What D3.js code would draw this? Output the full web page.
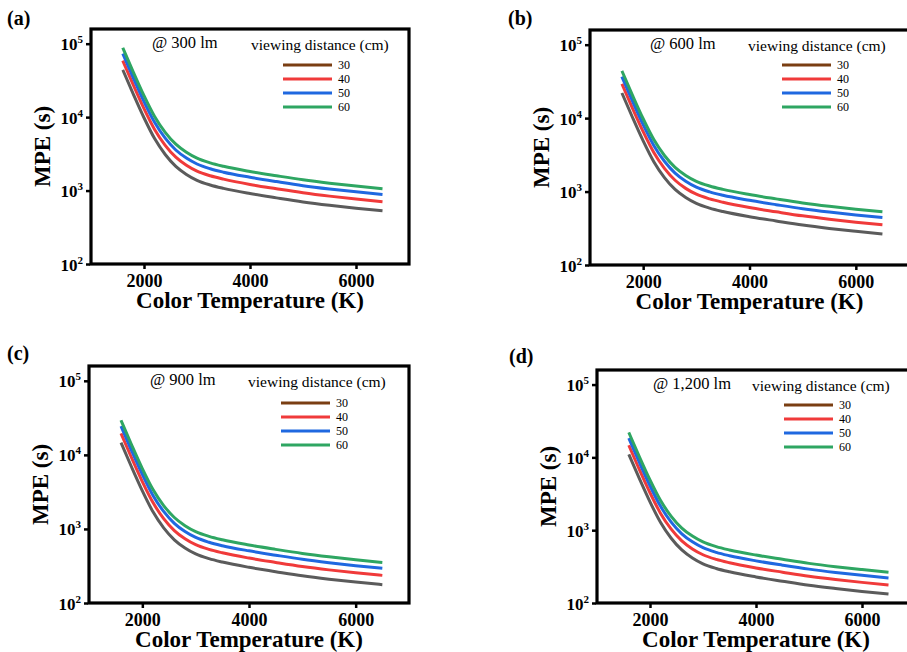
<!DOCTYPE html>
<html>
<head>
<meta charset="utf-8">
<script src="https://cdn.jsdelivr.net/npm/d3@7"></script>
<style>
  html, body { margin: 0; padding: 0; background: #fff; }
  svg { display: block; }
</style>
</head>
<body>
<svg id="chart" width="907" height="652"></svg>
<script>
// ── Data ─────────────────────────────────────────────────────────────────────

const tempK = [1600, 1800, 2000, 2200, 2400, 2600, 2800, 3000, 3250, 3500, 4000, 4500, 5000, 5500, 6000, 6500];
const distances = ["30", "40", "50", "60"];
const luminous = ["@ 300 lm", "@ 600 lm", "@ 900 lm", "@ 1,200 lm"];
const panelTags = ["(a)", "(b)", "(c)", "(d)"];
const yTicks = [100, 1000, 10000, 100000];
const xTicks = [2000, 4000, 6000];

// MPE (s) at 300 lm
const mpe300_30 = [44000, 20400, 9800, 5100, 3100, 2140, 1660, 1380, 1190, 1070, 910, 795, 700, 630, 575, 530];
const mpe300_40 = [58700, 27200, 13070, 6800, 4130, 2850, 2210, 1840, 1590, 1430, 1210, 1060, 935, 840, 765, 705];
const mpe300_50 = [73300, 34000, 16300, 8500, 5170, 3570, 2770, 2300, 1980, 1780, 1520, 1325, 1165, 1050, 960, 885];
const mpe300_60 = [88000, 40800, 19600, 10200, 6200, 4280, 3320, 2760, 2380, 2140, 1820, 1590, 1400, 1260, 1150, 1060];

// MPE (s) at 600 lm
const mpe600_30 = [22000, 10200, 4900, 2550, 1550, 1070, 830, 690, 595, 535, 455, 398, 350, 315, 288, 265];
const mpe600_40 = [29350, 13600, 6530, 3400, 2065, 1425, 1105, 920, 795, 715, 605, 530, 467, 420, 383, 353];
const mpe600_50 = [36650, 17000, 8150, 4250, 2585, 1785, 1385, 1150, 990, 890, 760, 663, 583, 525, 480, 443];
const mpe600_60 = [44000, 20400, 9800, 5100, 3100, 2140, 1660, 1380, 1190, 1070, 910, 795, 700, 630, 575, 530];

// MPE (s) at 900 lm
const mpe900_30 = [14670, 6800, 3270, 1700, 1033, 713, 553, 460, 397, 357, 303, 265, 233, 210, 192, 177];
const mpe900_40 = [19560, 9070, 4360, 2270, 1377, 951, 737, 613, 529, 476, 404, 353, 311, 280, 256, 236];
const mpe900_50 = [24450, 11330, 5440, 2830, 1722, 1189, 922, 767, 661, 594, 506, 442, 389, 350, 319, 294];
const mpe900_60 = [29330, 13600, 6530, 3400, 2067, 1427, 1107, 920, 793, 713, 607, 530, 467, 420, 383, 353];

// MPE (s) at 1,200 lm
const mpe1200_30 = [11000, 5100, 2450, 1275, 775, 535, 415, 345, 298, 268, 228, 199, 175, 158, 144, 133];
const mpe1200_40 = [14670, 6800, 3270, 1700, 1033, 713, 553, 460, 397, 357, 303, 265, 233, 210, 192, 177];
const mpe1200_50 = [18330, 8500, 4080, 2125, 1292, 892, 692, 575, 496, 446, 379, 331, 292, 263, 240, 221];
const mpe1200_60 = [22000, 10200, 4900, 2550, 1550, 1070, 830, 690, 595, 535, 455, 398, 350, 315, 288, 265];

const panelSeries = [
  [mpe300_30, mpe300_40, mpe300_50, mpe300_60],
  [mpe600_30, mpe600_40, mpe600_50, mpe600_60],
  [mpe900_30, mpe900_40, mpe900_50, mpe900_60],
  [mpe1200_30, mpe1200_40, mpe1200_50, mpe1200_60],
];

// ── Styling / layout ─────────────────────────────────────────────────────────

const lineColors = ["#5b5b5b", "#f03a3a", "#1f68e0", "#2ea662"];
const legendColors = ["#7a3e12", "#f03a3a", "#1f68e0", "#2ea662"];
const serif = "Liberation Serif, Times New Roman, serif";

// frame of each panel + small offsets for the in-plot texts
const layout = [
  { left: 91, top: 29, right: 409, bottom: 264, tagX: 7, tagY: 25, atX: 61, viewX: 160, legX: 192, legY: 36 },
  { left: 590, top: 30, right: 909, bottom: 265, tagX: 508, tagY: 25, atX: 60, viewX: 158, legX: 192, legY: 35 },
  { left: 89, top: 366, right: 409, bottom: 603, tagX: 7, tagY: 360, atX: 61, viewX: 159, legX: 192, legY: 37 },
  { left: 597, top: 370, right: 915, bottom: 603, tagX: 509, tagY: 363, atX: 56, viewX: 155, legX: 187, legY: 35 },
];

const svg = d3.select("#chart");

layout.forEach((p, k) => drawPanel(p, k));

function drawPanel(p, k) {
  const x = d3.scaleLinear().domain([1000, 7000]).range([p.left, p.right]);
  const y = d3.scaleLog().domain([100, Math.pow(10, 5.2)]).range([p.bottom, p.top]);
  const g = svg.append("g");

  // curves
  const line = d3.line()
    .x((d, i) => x(tempK[i]))
    .y((d) => y(d))
    .curve(d3.curveMonotoneX);

  panelSeries[k].forEach((vals, s) => {
    g.append("path")
      .datum(vals)
      .attr("d", line)
      .attr("fill", "none")
      .attr("stroke", lineColors[s])
      .attr("stroke-width", 3)
      .attr("stroke-linejoin", "round");
  });

  // frame
  g.append("rect")
    .attr("x", p.left).attr("y", p.top)
    .attr("width", p.right - p.left).attr("height", p.bottom - p.top)
    .attr("fill", "none").attr("stroke", "#000").attr("stroke-width", 3.2);

  // x axis ticks + labels
  const xAxis = d3.axisBottom(x).tickValues(xTicks).tickSize(4).tickPadding(5).tickFormat(d3.format("d"));
  const xg = g.append("g").attr("transform", `translate(0,${p.bottom + 1})`).call(xAxis);
  xg.select(".domain").remove();
  xg.selectAll(".tick line").attr("stroke", "#000").attr("stroke-width", 2.5);
  xg.selectAll(".tick text")
    .attr("font-family", serif).attr("font-size", "18px").attr("font-weight", "bold")
    .attr("fill", "#000");

  // y axis ticks + labels (10^n)
  const yAxis = d3.axisLeft(y).tickValues(yTicks).tickSize(4).tickFormat("");
  const yg = g.append("g").attr("transform", `translate(${p.left - 1},0)`).call(yAxis);
  yg.select(".domain").remove();
  yg.selectAll(".tick line").attr("stroke", "#000").attr("stroke-width", 2.5);
  yg.selectAll(".tick").each(function (d) {
    const t = d3.select(this).append("text")
      .attr("x", -7).attr("y", 6)
      .attr("text-anchor", "end")
      .attr("font-family", serif).attr("font-weight", "bold").attr("fill", "#000");
    t.append("tspan").attr("font-size", "17px").text("10");
    t.append("tspan").attr("font-size", "11px").attr("dy", "-7").text(Math.round(Math.log10(d)));
  });

  // axis titles
  g.append("text")
    .attr("x", (p.left + p.right) / 2).attr("y", p.bottom + 44)
    .attr("text-anchor", "middle")
    .attr("font-family", serif).attr("font-size", "23px").attr("font-weight", "bold")
    .text("Color Temperature (K)");

  const cy = (p.top + p.bottom) / 2;
  g.append("text")
    .attr("transform", `translate(${p.left - 41},${cy}) rotate(-90)`)
    .attr("text-anchor", "middle")
    .attr("font-family", serif).attr("font-size", "23px").attr("font-weight", "bold")
    .text("MPE (s)");

  // panel tag
  svg.append("text")
    .attr("x", p.tagX).attr("y", p.tagY)
    .attr("font-family", serif).attr("font-size", "20px").attr("font-weight", "bold")
    .text(panelTags[k]);

  // annotations
  g.append("text")
    .attr("x", p.left + p.atX).attr("y", p.top + 19)
    .attr("font-family", serif).attr("font-size", "16.5px")
    .text(luminous[k]);

  g.append("text")
    .attr("x", p.left + p.viewX).attr("y", p.top + 21)
    .attr("font-family", serif).attr("font-size", "15.5px")
    .text("viewing distance (cm)");

  // legend
  distances.forEach((dist, s) => {
    const ly = p.top + p.legY + s * 14;
    g.append("line")
      .attr("x1", p.left + p.legX).attr("x2", p.left + p.legX + 49)
      .attr("y1", ly).attr("y2", ly)
      .attr("stroke", legendColors[s]).attr("stroke-width", 3);
    g.append("text")
      .attr("x", p.left + p.legX + 55).attr("y", ly + 4)
      .attr("font-family", serif).attr("font-size", "12px")
      .text(dist);
  });
}
</script>
</body>
</html>
